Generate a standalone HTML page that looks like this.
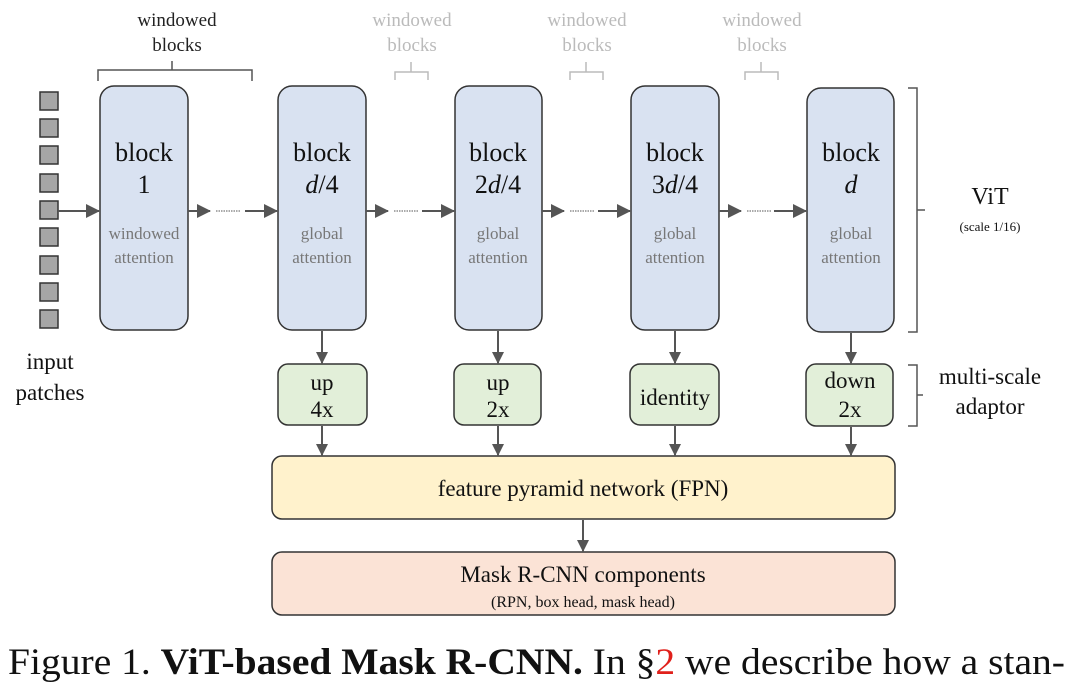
<!DOCTYPE html>
<html><head><meta charset="utf-8"><style>
html,body{margin:0;padding:0;background:#fff;width:1080px;height:689px;overflow:hidden}
svg{display:block}
text{font-family:"Liberation Serif",serif}
</style></head><body>
<svg width="1080" height="689" viewBox="0 0 1080 689" xmlns="http://www.w3.org/2000/svg">
<defs><marker id="a" markerWidth="12" markerHeight="12" refX="11" refY="6" orient="auto" markerUnits="userSpaceOnUse"><path d="M0,0 L12,6 L0,12 z" fill="#555"/></marker>
<marker id="b" markerWidth="14" markerHeight="14" refX="13" refY="7" orient="auto" markerUnits="userSpaceOnUse"><path d="M0,0 L14,7 L0,14 z" fill="#555"/></marker></defs>
<g fill="#a6a6a6" stroke="#333" stroke-width="1.5">
<rect x="40" y="92" width="18" height="18"/><rect x="40" y="119" width="18" height="18"/><rect x="40" y="146" width="18" height="18"/><rect x="40" y="174" width="18" height="18"/><rect x="40" y="201" width="18" height="18"/><rect x="40" y="228" width="18" height="18"/><rect x="40" y="256" width="18" height="18"/><rect x="40" y="283" width="18" height="18"/><rect x="40" y="310" width="18" height="18"/>
</g>
<g fill="#d9e2f1" stroke="#333" stroke-width="1.5">
<rect x="100" y="86" width="88" height="244" rx="14"/>
<rect x="278" y="86" width="88" height="244" rx="14"/>
<rect x="455" y="86" width="87" height="244" rx="14"/>
<rect x="631" y="86" width="88" height="244" rx="14"/>
<rect x="807" y="88" width="87" height="244" rx="14"/>
</g>
<g font-size="26" fill="#111" text-anchor="middle">
<text x="144" y="161">block</text><text x="144" y="193">1</text>
<text x="322" y="161">block</text><text x="322" y="193"><tspan font-style="italic">d</tspan>/4</text>
<text x="498" y="161">block</text><text x="498" y="193">2<tspan font-style="italic">d</tspan>/4</text>
<text x="675" y="161">block</text><text x="675" y="193">3<tspan font-style="italic">d</tspan>/4</text>
<text x="851" y="161">block</text><text x="851" y="193"><tspan font-style="italic">d</tspan></text>
</g>
<g font-size="17" fill="#777" text-anchor="middle">
<text x="144" y="239">windowed</text><text x="144" y="263">attention</text>
<text x="322" y="239">global</text><text x="322" y="263">attention</text>
<text x="498" y="239">global</text><text x="498" y="263">attention</text>
<text x="675" y="239">global</text><text x="675" y="263">attention</text>
<text x="851" y="239">global</text><text x="851" y="263">attention</text>
</g>
<g stroke="#555" stroke-width="2" fill="none">
<line x1="58" y1="211" x2="99" y2="211" marker-end="url(#b)"/>
<line x1="188" y1="211" x2="210" y2="211" marker-end="url(#b)"/><line x1="245" y1="211" x2="277" y2="211" marker-end="url(#b)"/>
<line x1="366" y1="211" x2="388" y2="211" marker-end="url(#b)"/><line x1="422" y1="211" x2="454" y2="211" marker-end="url(#b)"/>
<line x1="542" y1="211" x2="564" y2="211" marker-end="url(#b)"/><line x1="598" y1="211" x2="630" y2="211" marker-end="url(#b)"/>
<line x1="719" y1="211" x2="741" y2="211" marker-end="url(#b)"/><line x1="774" y1="211" x2="806" y2="211" marker-end="url(#b)"/>
</g>
<g stroke="#555" stroke-width="1" stroke-dasharray="1.5,1">
<line x1="216" y1="211" x2="240" y2="211"/><line x1="394" y1="211" x2="418" y2="211"/><line x1="570" y1="211" x2="594" y2="211"/><line x1="747" y1="211" x2="771" y2="211"/>
</g>
<g font-size="19" text-anchor="middle">
<text x="177" y="26" fill="#222">windowed</text><text x="177" y="51" fill="#222">blocks</text>
<text x="412" y="26" fill="#bbb">windowed</text><text x="412" y="51" fill="#bbb">blocks</text>
<text x="587" y="26" fill="#bbb">windowed</text><text x="587" y="51" fill="#bbb">blocks</text>
<text x="762" y="26" fill="#bbb">windowed</text><text x="762" y="51" fill="#bbb">blocks</text>
</g>
<g fill="none" stroke-width="1.5">
<path d="M98,81 V70 H252 V81 M172,70 V61" stroke="#555"/>
<path d="M395,80 V72 H428 V80 M411,72 V62" stroke="#bbb"/>
<path d="M570,80 V72 H603 V80 M586,72 V62" stroke="#bbb"/>
<path d="M745,80 V72 H778 V80 M761,72 V62" stroke="#bbb"/>
<path d="M908,88 H917 V332 H908 M917,210 H925" stroke="#555"/>
<path d="M908,365 H917 V426 H908 M917,395 H923" stroke="#555"/>
</g>
<text x="990" y="204" font-size="24" text-anchor="middle" fill="#111">ViT</text>
<text x="990" y="231" font-size="13" text-anchor="middle" fill="#111">(scale 1/16)</text>
<text x="990" y="384" font-size="23" text-anchor="middle" fill="#111">multi-scale</text>
<text x="990" y="414" font-size="23" text-anchor="middle" fill="#111">adaptor</text>
<text x="50" y="369" font-size="23" text-anchor="middle" fill="#111">input</text>
<text x="50" y="400" font-size="23" text-anchor="middle" fill="#111">patches</text>
<g stroke="#555" stroke-width="2">
<line x1="322" y1="331" x2="322" y2="363" marker-end="url(#a)"/><line x1="498" y1="331" x2="498" y2="363" marker-end="url(#a)"/><line x1="675" y1="331" x2="675" y2="363" marker-end="url(#a)"/><line x1="851" y1="333" x2="851" y2="363" marker-end="url(#a)"/>
<line x1="322" y1="426" x2="322" y2="455" marker-end="url(#a)"/><line x1="498" y1="426" x2="498" y2="455" marker-end="url(#a)"/><line x1="675" y1="426" x2="675" y2="455" marker-end="url(#a)"/><line x1="851" y1="427" x2="851" y2="455" marker-end="url(#a)"/>
<line x1="583" y1="520" x2="583" y2="551" marker-end="url(#a)"/>
</g>
<g fill="#e2efd9" stroke="#333" stroke-width="1.5">
<rect x="278" y="364" width="89" height="61" rx="10"/><rect x="454" y="364" width="87" height="61" rx="10"/><rect x="630" y="364" width="89" height="61" rx="10"/><rect x="806" y="364" width="87" height="62" rx="10"/>
</g>
<g font-size="23" fill="#111" text-anchor="middle">
<text x="322" y="390">up</text><text x="322" y="417">4x</text>
<text x="498" y="390">up</text><text x="498" y="417">2x</text>
<text x="675" y="405">identity</text>
<text x="850" y="388">down</text><text x="850" y="417">2x</text>
</g>
<rect x="272" y="456" width="623" height="63" rx="10" fill="#fff2cc" stroke="#333" stroke-width="1.5"/>
<text x="583" y="496" font-size="23" text-anchor="middle" fill="#111">feature pyramid network (FPN)</text>
<rect x="272" y="552" width="623" height="63" rx="10" fill="#fbe3d6" stroke="#333" stroke-width="1.5"/>
<text x="583" y="582" font-size="23" text-anchor="middle" fill="#111">Mask R-CNN components</text>
<text x="583" y="607" font-size="16" text-anchor="middle" fill="#111">(RPN, box head, mask head)</text>
<text x="8" y="674" font-size="37" fill="#111" textLength="1057" lengthAdjust="spacingAndGlyphs">Figure 1. <tspan font-weight="bold">ViT-based Mask R-CNN.</tspan> In §<tspan fill="#e0201b">2</tspan> we describe how a stan-</text>
</svg>
</body></html>
